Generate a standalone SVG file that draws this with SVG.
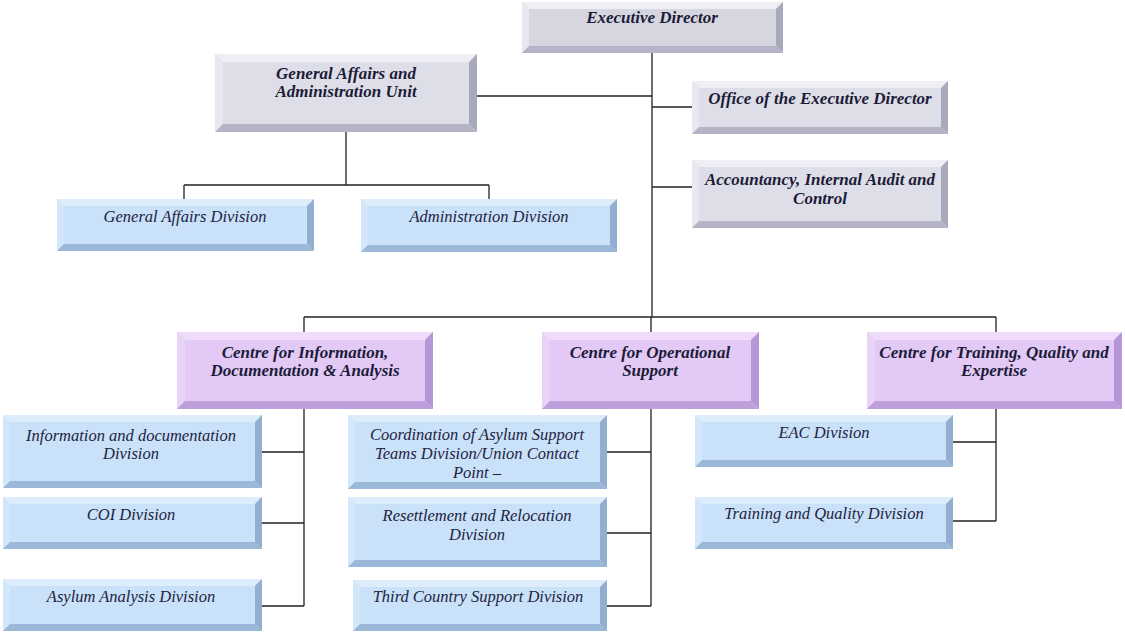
<svg xmlns="http://www.w3.org/2000/svg" width="1125" height="632" viewBox="0 0 1125 632">
<style>
.bg{fill:#ffffff}
.gf{fill:#dedee8}.gt{fill:#eeeef4}.gl{fill:#e8e8f0}.gr{fill:#a9a9bd}.gb{fill:#b4b4c6}
.pf{fill:#e2c9f6}.pt{fill:#eedcfa}.pl{fill:#e9d4f8}.pr{fill:#b596d6}.pb{fill:#bd9fdc}
.bf{fill:#c9e1f9}.bt{fill:#ddedfc}.bl{fill:#d3e7fb}.br{fill:#92aed0}.bb{fill:#9cb8d8}
.h{font-family:"Liberation Serif","Times New Roman",serif;font-size:17px;font-style:italic;font-weight:bold;fill:#1c1c38;text-anchor:middle}
.d{font-family:"Liberation Serif","Times New Roman",serif;font-size:16.5px;font-style:italic;fill:#23233f;text-anchor:middle}
.c{fill:none;stroke:#222;stroke-width:1.3}
</style>
<rect class="bg" x="0" y="0" width="1125" height="632"/>
<g id="connectors">
<path class="c" d="M652,53V317M304,317H996M304,317V332M651,317V332M996,317V332"/>
<path class="c" d="M477,96H652M652,107H692M652,187H692"/>
<path class="c" d="M346,132V185M184,185H489M184,185V199M489,185V199"/>
<path class="c" d="M304,409V606M262,452H304M262,523H304M262,606H304"/>
<path class="c" d="M651,409V606M607,452H651M607,533H651M607,606H651"/>
<path class="c" d="M996,409V521M953,442H996M953,521H996"/>
</g>
<g id="n-exec">
<rect class="gf" x="522" y="2" width="261" height="51" style="fill:#d6d6e0"/>
<polygon class="gt" points="522,2 783,2 776,9 529,9"/>
<polygon class="gl" points="522,2 529,9 529,46 522,53"/>
<polygon class="gr" points="783,2 783,53 776,46 776,9"/>
<polygon class="gb" points="522,53 783,53 776,46 529,46"/>
<text class="h" x="652" y="23">Executive Director</text>
</g>
<g id="n-gaau">
<rect class="gf" x="215" y="54" width="262" height="78"/>
<polygon class="gt" points="215,54 477,54 469,62 223,62"/>
<polygon class="gl" points="215,54 223,62 223,124 215,132"/>
<polygon class="gr" points="477,54 477,132 469,124 469,62"/>
<polygon class="gb" points="215,132 477,132 469,124 223,124"/>
<text class="h" x="346" y="79">General Affairs and</text>
<text class="h" x="346" y="97">Administration Unit</text>
</g>
<g id="n-office">
<rect class="gf" x="692" y="81" width="256" height="53"/>
<polygon class="gt" points="692,81 948,81 941,88 699,88"/>
<polygon class="gl" points="692,81 699,88 699,127 692,134"/>
<polygon class="gr" points="948,81 948,134 941,127 941,88"/>
<polygon class="gb" points="692,134 948,134 941,127 699,127"/>
<text class="h" x="820" y="104">Office of the Executive Director</text>
</g>
<g id="n-accountancy">
<rect class="gf" x="692" y="160" width="256" height="68"/>
<polygon class="gt" points="692,160 948,160 941,167 699,167"/>
<polygon class="gl" points="692,160 699,167 699,221 692,228"/>
<polygon class="gr" points="948,160 948,228 941,221 941,167"/>
<polygon class="gb" points="692,228 948,228 941,221 699,221"/>
<text class="h" x="820" y="185">Accountancy, Internal Audit and</text>
<text class="h" x="820" y="204">Control</text>
</g>
<g id="n-gad">
<rect class="bf" x="57" y="199" width="257" height="52"/>
<polygon class="bt" points="57,199 314,199 307,206 64,206"/>
<polygon class="bl" points="57,199 64,206 64,244 57,251"/>
<polygon class="br" points="314,199 314,251 307,244 307,206"/>
<polygon class="bb" points="57,251 314,251 307,244 64,244"/>
<text class="d" x="185" y="222">General Affairs Division</text>
</g>
<g id="n-admin">
<rect class="bf" x="361" y="199" width="256" height="53"/>
<polygon class="bt" points="361,199 617,199 610,206 368,206"/>
<polygon class="bl" points="361,199 368,206 368,245 361,252"/>
<polygon class="br" points="617,199 617,252 610,245 610,206"/>
<polygon class="bb" points="361,252 617,252 610,245 368,245"/>
<text class="d" x="489" y="222">Administration Division</text>
</g>
<g id="n-cida">
<rect class="pf" x="177" y="332" width="256" height="77"/>
<polygon class="pt" points="177,332 433,332 425,340 185,340"/>
<polygon class="pl" points="177,332 185,340 185,401 177,409"/>
<polygon class="pr" points="433,332 433,409 425,401 425,340"/>
<polygon class="pb" points="177,409 433,409 425,401 185,401"/>
<text class="h" x="305" y="358">Centre for Information,</text>
<text class="h" x="305" y="376">Documentation &amp; Analysis</text>
</g>
<g id="n-cos">
<rect class="pf" x="542" y="332" width="217" height="77"/>
<polygon class="pt" points="542,332 759,332 751,340 550,340"/>
<polygon class="pl" points="542,332 550,340 550,401 542,409"/>
<polygon class="pr" points="759,332 759,409 751,401 751,340"/>
<polygon class="pb" points="542,409 759,409 751,401 550,401"/>
<text class="h" x="650" y="358">Centre for Operational</text>
<text class="h" x="650" y="376">Support</text>
</g>
<g id="n-ctqe">
<rect class="pf" x="867" y="332" width="255" height="77"/>
<polygon class="pt" points="867,332 1122,332 1114,340 875,340"/>
<polygon class="pl" points="867,332 875,340 875,401 867,409"/>
<polygon class="pr" points="1122,332 1122,409 1114,401 1114,340"/>
<polygon class="pb" points="867,409 1122,409 1114,401 875,401"/>
<text class="h" x="994" y="358">Centre for Training, Quality and</text>
<text class="h" x="994" y="376">Expertise</text>
</g>
<g id="n-infodoc">
<rect class="bf" x="3" y="415" width="259" height="73"/>
<polygon class="bt" points="3,415 262,415 255,422 10,422"/>
<polygon class="bl" points="3,415 10,422 10,481 3,488"/>
<polygon class="br" points="262,415 262,488 255,481 255,422"/>
<polygon class="bb" points="3,488 262,488 255,481 10,481"/>
<text class="d" x="131" y="441">Information and documentation</text>
<text class="d" x="131" y="459">Division</text>
</g>
<g id="n-coi">
<rect class="bf" x="3" y="497" width="259" height="52"/>
<polygon class="bt" points="3,497 262,497 255,504 10,504"/>
<polygon class="bl" points="3,497 10,504 10,542 3,549"/>
<polygon class="br" points="262,497 262,549 255,542 255,504"/>
<polygon class="bb" points="3,549 262,549 255,542 10,542"/>
<text class="d" x="131" y="520">COI Division</text>
</g>
<g id="n-asylum">
<rect class="bf" x="3" y="579" width="259" height="52"/>
<polygon class="bt" points="3,579 262,579 255,586 10,586"/>
<polygon class="bl" points="3,579 10,586 10,624 3,631"/>
<polygon class="br" points="262,579 262,631 255,624 255,586"/>
<polygon class="bb" points="3,631 262,631 255,624 10,624"/>
<text class="d" x="131" y="602">Asylum Analysis Division</text>
</g>
<g id="n-coord">
<rect class="bf" x="348" y="415" width="259" height="74"/>
<polygon class="bt" points="348,415 607,415 600,422 355,422"/>
<polygon class="bl" points="348,415 355,422 355,482 348,489"/>
<polygon class="br" points="607,415 607,489 600,482 600,422"/>
<polygon class="bb" points="348,489 607,489 600,482 355,482"/>
<text class="d" x="477" y="440">Coordination of Asylum Support</text>
<text class="d" x="477" y="459">Teams Division/Union Contact</text>
<text class="d" x="477" y="478">Point –</text>
</g>
<g id="n-resettle">
<rect class="bf" x="348" y="497" width="259" height="70"/>
<polygon class="bt" points="348,497 607,497 600,504 355,504"/>
<polygon class="bl" points="348,497 355,504 355,560 348,567"/>
<polygon class="br" points="607,497 607,567 600,560 600,504"/>
<polygon class="bb" points="348,567 607,567 600,560 355,560"/>
<text class="d" x="477" y="521">Resettlement and Relocation</text>
<text class="d" x="477" y="540">Division</text>
</g>
<g id="n-third">
<rect class="bf" x="353" y="580" width="254" height="51"/>
<polygon class="bt" points="353,580 607,580 600,587 360,587"/>
<polygon class="bl" points="353,580 360,587 360,624 353,631"/>
<polygon class="br" points="607,580 607,631 600,624 600,587"/>
<polygon class="bb" points="353,631 607,631 600,624 360,624"/>
<text class="d" x="478" y="602">Third Country Support Division</text>
</g>
<g id="n-eac">
<rect class="bf" x="695" y="415" width="258" height="52"/>
<polygon class="bt" points="695,415 953,415 946,422 702,422"/>
<polygon class="bl" points="695,415 702,422 702,460 695,467"/>
<polygon class="br" points="953,415 953,467 946,460 946,422"/>
<polygon class="bb" points="695,467 953,467 946,460 702,460"/>
<text class="d" x="824" y="438">EAC Division</text>
</g>
<g id="n-training">
<rect class="bf" x="695" y="497" width="258" height="52"/>
<polygon class="bt" points="695,497 953,497 946,504 702,504"/>
<polygon class="bl" points="695,497 702,504 702,542 695,549"/>
<polygon class="br" points="953,497 953,549 946,542 946,504"/>
<polygon class="bb" points="695,549 953,549 946,542 702,542"/>
<text class="d" x="824" y="519">Training and Quality Division</text>
</g>
</svg>
